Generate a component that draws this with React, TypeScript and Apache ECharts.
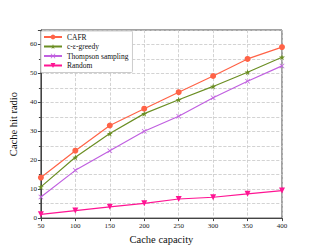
import React, { useEffect, useRef } from "react";
import * as echarts from "echarts";

const categories = [50, 100, 150, 200, 250, 300, 350, 400];
const cafr = [14.0, 23.3, 32.0, 37.8, 43.5, 49.1, 55.0, 59.1];
const greedy = [10.8, 21.0, 29.2, 36.1, 40.9, 45.5, 50.4, 55.6];
const thompson = [7.3, 16.5, 23.3, 30.0, 35.2, 41.6, 47.3, 52.6];
const random = [1.3, 2.6, 3.9, 5.1, 6.6, 7.2, 8.4, 9.5];
const seriesNames = ["CAFR", "c-ε-greedy", "Thompson sampling", "Random"];

const FONT = "'Liberation Serif', 'Times New Roman', serif";
const STAR =
  "path://M50,0 L61,35 L98,35 L68,57 L79,91 L50,70 L21,91 L32,57 L2,35 L39,35 Z";
const CROSS =
  "path://M10,0 L50,40 L90,0 L100,10 L60,50 L100,90 L90,100 L50,60 L10,100 L0,90 L40,50 L0,10 Z";

export default function App() {
  const ref = useRef<HTMLDivElement>(null);
  useEffect(() => {
    if (!ref.current) return;
    const chart = echarts.init(ref.current, undefined, { renderer: "svg" });
    const mk = (vals: number[]) => categories.map((c, i) => [c, vals[i]]);
    const base = (name: string, vals: number[], color: string, symbol: string, size: number, rotate = 0) => ({
      name,
      type: "line",
      data: mk(vals),
      symbol,
      symbolSize: size,
      symbolRotate: rotate,
      lineStyle: { color, width: 1.2 },
      itemStyle: { color },
      color,
    });
    chart.setOption({
      animation: false,
      textStyle: { fontFamily: FONT },
      grid: { left: 39, right: 31, top: 30, bottom: 27, show: true, borderColor: "#444", borderWidth: 1 },
      legend: {
        orient: "vertical",
        left: 41,
        top: 31,
        padding: [2, 4, 3, 2],
        itemGap: 1.5,
        itemWidth: 18,
        itemHeight: 6,
        backgroundColor: "#fff",
        borderColor: "#ccc",
        borderWidth: 1,
        borderRadius: 1,
        textStyle: { fontFamily: FONT, fontSize: 7.5, color: "#111", padding: [0, 0, 0, 0] },
        data: seriesNames,
      },
      xAxis: {
        type: "value",
        min: 50,
        max: 400,
        interval: 50,
        name: "Cache capacity",
        nameLocation: "middle",
        nameGap: 15,
        nameTextStyle: { fontFamily: FONT, fontSize: 10.5, color: "#111" },
        axisLine: { lineStyle: { color: "#444" } },
        axisTick: { show: true, inside: false, length: 3, lineStyle: { color: "#444" } },
        axisLabel: { fontFamily: FONT, fontSize: 7, color: "#222", margin: 4 },
        splitLine: { show: true, lineStyle: { type: "dashed", color: "#c8c8c8", width: 0.8 } },
      },
      yAxis: {
        type: "value",
        min: 0,
        max: 65,
        interval: 10,
        name: "Cache hit radio",
        nameLocation: "middle",
        nameGap: 21,
        nameTextStyle: { fontFamily: FONT, fontSize: 10.5, color: "#111" },
        axisLine: { show: true, lineStyle: { color: "#444" } },
        axisTick: { show: true, inside: false, length: 3, lineStyle: { color: "#444" } },
        minorTick: { show: true, splitNumber: 2, length: 2, lineStyle: { color: "#444" } },
        axisLabel: { fontFamily: FONT, fontSize: 7, color: "#222", margin: 4, showMaxLabel: false },
        splitLine: { show: true, lineStyle: { type: "dashed", color: "#c8c8c8", width: 0.8 } },
        minorSplitLine: { show: true, lineStyle: { type: "dashed", color: "#c8c8c8", width: 0.8 } },
      },
      series: [
        base(seriesNames[0], cafr, "#FF6347", "circle", 6),
        base(seriesNames[1], greedy, "#6B8E23", STAR, 6),
        base(seriesNames[2], thompson, "#C060E0", CROSS, 5),
        base(seriesNames[3], random, "#FF1493", "triangle", 6, 180),
      ],
    });
    return () => chart.dispose();
  }, []);
  return <div ref={ref} style={{ width: 313, height: 250, position: "absolute", left: 0, top: 0 }} />;
}
